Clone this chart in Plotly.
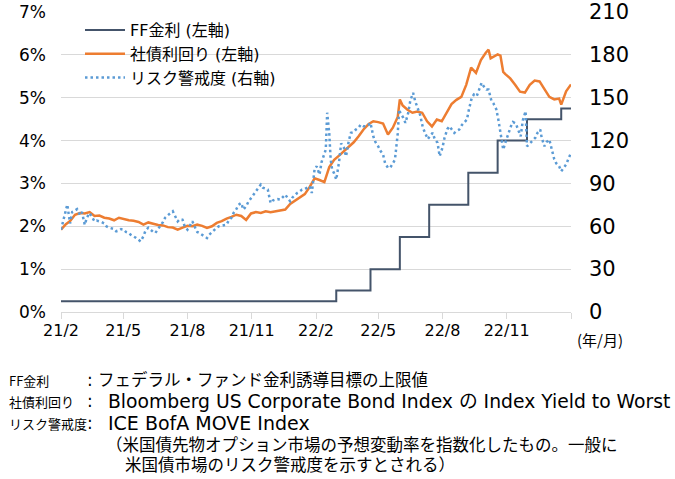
import plotly.graph_objects as go

# ---------------- data ----------------
ff_dates = ["2021-02-16", "2022-03-17", "2022-05-05", "2022-06-16", "2022-07-28",
            "2022-09-22", "2022-11-03", "2022-12-15", "2023-02-02", "2023-02-16"]
ff_rate = [0.25, 0.50, 1.00, 1.75, 2.50, 3.25, 4.00, 4.50, 4.75, 4.75]

corp_dates = [
    "2021-02-16", "2021-02-23", "2021-03-01", "2021-03-08", "2021-03-15", "2021-03-22", "2021-03-29",
    "2021-04-05", "2021-04-12", "2021-04-19", "2021-04-26", "2021-05-03", "2021-05-10", "2021-05-17",
    "2021-05-24", "2021-05-31", "2021-06-07", "2021-06-14", "2021-06-21", "2021-06-28", "2021-07-05",
    "2021-07-12", "2021-07-19", "2021-07-26", "2021-08-02", "2021-08-09", "2021-08-16", "2021-08-23",
    "2021-08-30", "2021-09-06", "2021-09-13", "2021-09-20", "2021-09-27", "2021-10-04", "2021-10-11",
    "2021-10-18", "2021-10-25", "2021-11-01", "2021-11-08", "2021-11-15", "2021-11-22", "2021-11-29",
    "2021-12-06", "2021-12-13", "2021-12-20", "2021-12-27", "2022-01-03", "2022-01-10", "2022-01-17",
    "2022-01-24", "2022-01-31", "2022-02-07", "2022-02-14", "2022-02-21", "2022-02-28", "2022-03-07",
    "2022-03-14", "2022-03-21", "2022-03-28", "2022-04-04", "2022-04-11", "2022-04-18", "2022-04-25",
    "2022-05-02", "2022-05-09", "2022-05-16", "2022-05-23", "2022-05-30", "2022-06-06", "2022-06-13",
    "2022-06-16", "2022-06-20", "2022-06-27", "2022-07-04", "2022-07-11", "2022-07-18", "2022-07-25",
    "2022-08-01", "2022-08-08", "2022-08-15", "2022-08-22", "2022-08-29", "2022-09-05", "2022-09-12",
    "2022-09-19", "2022-09-26", "2022-10-03", "2022-10-10", "2022-10-17", "2022-10-21", "2022-10-24",
    "2022-10-31", "2022-11-03", "2022-11-07", "2022-11-11", "2022-11-14", "2022-11-21", "2022-11-28",
    "2022-12-05", "2022-12-12", "2022-12-19", "2022-12-26", "2023-01-02", "2023-01-09", "2023-01-16",
    "2023-01-23", "2023-01-30", "2023-02-02", "2023-02-06", "2023-02-09", "2023-02-16"]
corp_yield = [
    1.92, 2.05, 2.12, 2.27, 2.31, 2.30, 2.33,
    2.24, 2.25, 2.20, 2.18, 2.14, 2.20, 2.17,
    2.14, 2.13, 2.10, 2.04, 2.09, 2.06, 2.03,
    2.02, 1.98, 1.97, 1.92, 1.97, 2.01, 2.00,
    2.04, 2.01, 1.96, 2.00, 2.08, 2.12, 2.18,
    2.22, 2.27, 2.24, 2.15, 2.30, 2.33, 2.31,
    2.35, 2.33, 2.35, 2.36, 2.39, 2.52, 2.60,
    2.68, 2.75, 2.92, 3.12, 3.08, 3.03, 3.38,
    3.55, 3.65, 3.75, 3.85, 3.96, 4.10, 4.26,
    4.38, 4.45, 4.43, 4.40, 4.14, 4.30, 4.55,
    4.96, 4.82, 4.72, 4.65, 4.68, 4.65, 4.45,
    4.33, 4.49, 4.45, 4.65, 4.85, 4.95, 5.02,
    5.30, 5.70, 5.58, 5.88, 6.05, 6.12, 5.92,
    5.97, 6.01, 5.98, 5.60, 5.55, 5.45, 5.30,
    5.14, 5.12, 5.30, 5.40, 5.38, 5.20, 5.02,
    4.96, 4.98, 4.84, 5.05, 5.15, 5.31]

move_dates = [
    "2021-02-16", "2021-02-19", "2021-02-23", "2021-02-25", "2021-03-01", "2021-03-04", "2021-03-08",
    "2021-03-11", "2021-03-15", "2021-03-18", "2021-03-22", "2021-03-25", "2021-03-29", "2021-04-01",
    "2021-04-05", "2021-04-08", "2021-04-12", "2021-04-15", "2021-04-19", "2021-04-22", "2021-04-26",
    "2021-04-29", "2021-05-03", "2021-05-06", "2021-05-10", "2021-05-13", "2021-05-17", "2021-05-20",
    "2021-05-24", "2021-05-27", "2021-05-31", "2021-06-03", "2021-06-07", "2021-06-10", "2021-06-14",
    "2021-06-17", "2021-06-21", "2021-06-24", "2021-06-28", "2021-07-01", "2021-07-05", "2021-07-08",
    "2021-07-12", "2021-07-15", "2021-07-19", "2021-07-22", "2021-07-26", "2021-07-29", "2021-08-02",
    "2021-08-05", "2021-08-09", "2021-08-12", "2021-08-16", "2021-08-19", "2021-08-23", "2021-08-26",
    "2021-08-30", "2021-09-02", "2021-09-06", "2021-09-09", "2021-09-13", "2021-09-16", "2021-09-20",
    "2021-09-23", "2021-09-27", "2021-09-30", "2021-10-04", "2021-10-07", "2021-10-11", "2021-10-14",
    "2021-10-18", "2021-10-21", "2021-10-25", "2021-10-28", "2021-11-01", "2021-11-04", "2021-11-08",
    "2021-11-11", "2021-11-15", "2021-11-18", "2021-11-22", "2021-11-26", "2021-11-29", "2021-12-02",
    "2021-12-06", "2021-12-09", "2021-12-13", "2021-12-16", "2021-12-20", "2021-12-23", "2021-12-27",
    "2021-12-30", "2022-01-03", "2022-01-06", "2022-01-10", "2022-01-13", "2022-01-17", "2022-01-20",
    "2022-01-24", "2022-01-27", "2022-01-31", "2022-02-03", "2022-02-07", "2022-02-10", "2022-02-14",
    "2022-02-17", "2022-02-21", "2022-02-24", "2022-02-28", "2022-03-02", "2022-03-04", "2022-03-07",
    "2022-03-09", "2022-03-11", "2022-03-14", "2022-03-17", "2022-03-21", "2022-03-24", "2022-03-28",
    "2022-03-31", "2022-04-04", "2022-04-07", "2022-04-11", "2022-04-14", "2022-04-18", "2022-04-21",
    "2022-04-25", "2022-04-28", "2022-05-02", "2022-05-05", "2022-05-09", "2022-05-12", "2022-05-16",
    "2022-05-19", "2022-05-23", "2022-05-26", "2022-05-30", "2022-06-02", "2022-06-06", "2022-06-09",
    "2022-06-13", "2022-06-15", "2022-06-17", "2022-06-21", "2022-06-24", "2022-06-28", "2022-07-01",
    "2022-07-05", "2022-07-08", "2022-07-12", "2022-07-15", "2022-07-19", "2022-07-22", "2022-07-26",
    "2022-07-29", "2022-08-02", "2022-08-05", "2022-08-09", "2022-08-12", "2022-08-16", "2022-08-19",
    "2022-08-23", "2022-08-26", "2022-08-30", "2022-09-02", "2022-09-06", "2022-09-09", "2022-09-13",
    "2022-09-16", "2022-09-20", "2022-09-23", "2022-09-27", "2022-09-30", "2022-10-04", "2022-10-07",
    "2022-10-11", "2022-10-14", "2022-10-18", "2022-10-21", "2022-10-25", "2022-10-28", "2022-11-01",
    "2022-11-04", "2022-11-08", "2022-11-10", "2022-11-11", "2022-11-15", "2022-11-18", "2022-11-22",
    "2022-11-25", "2022-11-29", "2022-12-02", "2022-12-06", "2022-12-09", "2022-12-13", "2022-12-15",
    "2022-12-19", "2022-12-22", "2022-12-27", "2022-12-30", "2023-01-03", "2023-01-05", "2023-01-09",
    "2023-01-12", "2023-01-16", "2023-01-19", "2023-01-23", "2023-01-26", "2023-01-30", "2023-02-02",
    "2023-02-06", "2023-02-09", "2023-02-13", "2023-02-16"]
move_index = [
    57.6, 63, 70, 75.2, 62, 70, 71,
    72, 68, 70, 61, 66, 69.3, 67,
    63.5, 64, 63.5, 63, 62, 60, 59,
    58.5, 58, 56.5, 57, 58, 57.6, 56,
    55.3, 54, 53, 52, 50.5, 49.4, 53,
    57, 59, 57.6, 56, 55.3, 58, 60,
    63, 66, 68, 69, 70.5, 67, 63.5,
    65, 64.6, 60, 57.6, 60, 63.5, 60,
    56, 55.3, 54, 52.5, 51.8, 54, 56,
    57.6, 59, 60, 60.5, 61, 61.1, 64,
    66, 69.3, 72, 75, 76.3, 71.7, 74,
    77, 79.8, 82, 85, 87, 89.2, 87,
    86, 85.7, 76.3, 78, 78.7, 79, 78.7,
    80, 82.2, 80, 77.5, 80, 82, 83.3,
    84.5, 85.7, 86, 87, 88, 83.3, 100,
    102, 96.2, 105, 112, 113.7, 139.5, 125,
    106.7, 100, 97, 92.7, 105, 118, 115,
    109, 120, 125.4, 126, 127.7, 129, 131.2,
    130, 130, 131, 132.4, 123, 119, 116,
    113, 110.2, 104, 101, 100.9, 104, 106.7,
    125, 141.7, 139, 136, 132.4, 139.4, 148,
    153.4, 147.5, 142, 138, 129, 125, 121,
    123, 125.4, 121, 118.4, 109, 115, 122,
    128, 130, 127, 125.4, 127, 127.7, 131,
    132.4, 134.7, 142, 150, 152.2, 151, 155,
    160.4, 158, 155.7, 155.7, 148, 146, 142,
    134.7, 124, 116, 113.7, 120, 125, 130,
    133, 132, 128, 123, 134, 140.5, 116,
    118.4, 119.5, 122, 125.4, 127.7, 122, 116,
    119, 120.7, 114, 107, 104, 102, 98.5,
    101, 103.2, 108, 111.4]

x_tick_dates = ["2021-02-16", "2021-05-16", "2021-08-16", "2021-11-16", "2022-02-16",
                "2022-05-16", "2022-08-16", "2022-11-16", "2023-02-16"]
x_tick_labels = ["21/2", "21/5", "21/8", "21/11", "22/2", "22/5", "22/8", "22/11", ""]

left_ticks = [0, 1, 2, 3, 4, 5, 6, 7]
right_ticks = [0, 30, 60, 90, 120, 150, 180, 210]

series_names = ["FF金利 (左軸)", "社債利回り (左軸)", "リスク警戒度 (右軸)"]

note_labels = ["FF金利", "社債利回り", "リスク警戒度", "", ""]
note_texts = ["フェデラル・ファンド金利誘導目標の上限値",
              "Bloomberg US Corporate Bond Index の Index Yield to Worst",
              "ICE BofA MOVE Index",
              "（米国債先物オプション市場の予想変動率を指数化したもの。一般に",
              "米国債市場のリスク警戒度を示すとされる）"]

# ---------------- figure ----------------
FONT = "DejaVu Sans, Noto Sans CJK JP, sans-serif"
JFONT = "Noto Sans CJK JP, sans-serif"

fig = go.Figure()
fig.add_trace(go.Scatter(x=ff_dates, y=ff_rate, name=series_names[0], mode="lines",
                         line=dict(color="#44546A", width=2, shape="hv"), yaxis="y"))
fig.add_trace(go.Scatter(x=corp_dates, y=corp_yield, name=series_names[1], mode="lines",
                         line=dict(color="#ED7D31", width=2.5), yaxis="y"))
fig.add_trace(go.Scatter(x=move_dates, y=move_index, name=series_names[2], mode="lines",
                         line=dict(color="#5B9BD5", width=2.5, dash="2.5px,3px"), yaxis="y2"))

W, H = 675, 479
L, T = 61, 12
R = W - 571
B = H - 312
PW, PH = W - L - R, H - T - B


def fx(px):
    return (px - L) / PW


def fy(py):
    return (H - B - py) / PH


annotations = [dict(text="(年/月)", x=fx(600), y=fy(339), xref="paper", yref="paper",
                    showarrow=False, xanchor="center", yanchor="middle",
                    font=dict(family=JFONT, size=15, color="#000"))]

note_y = [380, 401, 423, 445, 466]
note_x = [97, 107, 107, 105, 124]
note_size = [16.5, 18.75, 19.0, 16.5, 16.5]
for i in range(5):
    if note_labels[i]:
        annotations.append(dict(text=note_labels[i], x=fx(8), y=fy(note_y[i]), xref="paper", yref="paper",
                                showarrow=False, xanchor="left", yanchor="middle", align="left",
                                borderpad=0, font=dict(family=JFONT, size=13, color="#000")))
        annotations.append(dict(text=":", x=fx(90), y=fy(note_y[i]), xref="paper", yref="paper",
                                showarrow=False, xanchor="center", yanchor="middle", borderpad=0,
                                font=dict(family=FONT, size=17, color="#000")))
    annotations.append(dict(text=note_texts[i], x=fx(note_x[i]), y=fy(note_y[i]), xref="paper", yref="paper",
                            showarrow=False, xanchor="left", yanchor="middle", align="left",
                            borderpad=0,
                            font=dict(family=FONT, size=note_size[i], color="#000")))

fig.update_layout(
    width=W, height=H,
    margin=dict(l=L, r=R, t=T, b=B, pad=0, autoexpand=False),
    paper_bgcolor="white", plot_bgcolor="white",
    font=dict(family=FONT, size=16, color="#000"),
    showlegend=True,
    legend=dict(x=fx(80), y=fy(13), xanchor="left", yanchor="top",
                bgcolor="rgba(0,0,0,0)", font=dict(family=FONT, size=16, color="#000"),
                itemwidth=40, tracegroupgap=0),
    xaxis=dict(type="date", range=[x_tick_dates[0], x_tick_dates[-1]],
               tickmode="array", tickvals=x_tick_dates, ticktext=x_tick_labels,
               ticks="outside", ticklen=6, tickcolor="#D9D9D9", tickwidth=1,
               showline=True, linecolor="#D9D9D9", linewidth=1, automargin=False,
               ticklabelstandoff=-2,
               showgrid=False, zeroline=False, tickfont=dict(size=16)),
    yaxis=dict(range=[0, 7], tickmode="array", tickvals=left_ticks,
               ticktext=[f"{v}%" for v in left_ticks], automargin=False,
               ticklabeloverflow="allow",
               showgrid=True, gridcolor="#D9D9D9", gridwidth=1, zeroline=False,
               ticks="", ticklabelstandoff=14, tickfont=dict(size=17)),
    yaxis2=dict(range=[0, 210], tickmode="array", tickvals=right_ticks, automargin=False,
                ticklabeloverflow="allow",
                overlaying="y", side="right", showgrid=False, zeroline=False,
                ticks="", ticklabelstandoff=17, tickfont=dict(size=21)),
    annotations=annotations,
)

# remove the browser's default 8px page margin so the figure sits at the window's corner
fig.write_html("out.html", config={"displayModeBar": False},
               post_script="document.body.style.margin='0px';")
